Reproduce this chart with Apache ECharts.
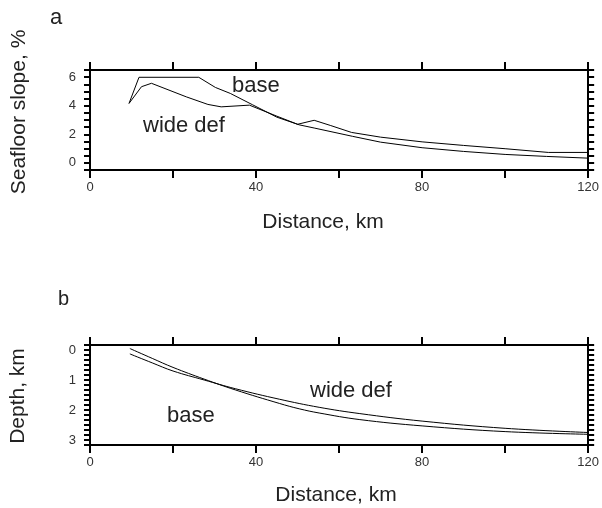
<!DOCTYPE html>
<html>
<head>
<meta charset="utf-8">
<script src="https://cdn.jsdelivr.net/npm/echarts@6/dist/echarts.min.js"></script>
<style>
  html, body { margin: 0; padding: 0; background: #fff; }
  #chart { width: 602px; height: 508px; }
</style>
</head>
<body>
<div id="chart"></div>
<script>
// Panel a: seafloor slope (%) against distance (km)
const slopeBaseKm = [9.4, 11.8, 26.2, 30.2, 33.8, 39.2, 45, 50.4, 54, 63.2, 70, 80, 90, 100, 110, 120];
const slopeBase   = [4.16, 5.99, 5.99, 5.28, 4.86, 4.06, 3.2, 2.66, 2.44, 1.86, 1.45, 1.06, 0.8, 0.59, 0.45, 0.33];
const slopeWideKm = [9.4, 12.4, 14.8, 23.2, 28.4, 31.6, 38.4, 45, 50, 54, 58, 63, 70, 80, 90, 100, 110.4, 120];
const slopeWide   = [4.16, 5.33, 5.57, 4.62, 4.09, 3.92, 4.04, 3.27, 2.7, 2.98, 2.61, 2.13, 1.8, 1.47, 1.22, 0.99, 0.73, 0.73];

// Panel b: depth (km) against distance (km)
const depthBaseKm = [9.6, 15, 20, 27.5, 35, 45.6, 50.4, 55.2, 65, 80, 100, 120];
const depthBase   = [-0.05, 0.28, 0.58, 0.97, 1.33, 1.78, 1.96, 2.1, 2.32, 2.53, 2.72, 2.81];
const depthWideKm = [9.6, 15, 20, 27.5, 35, 45.6, 55.2, 65, 80, 100, 120];
const depthWide   = [0.13, 0.43, 0.7, 1.0, 1.29, 1.64, 1.91, 2.12, 2.37, 2.61, 2.75];

// Tick labels
const distanceLabels = [0, 40, 80, 120];
const slopeLabels = [0, 2, 4, 6];
const depthLabels = [0, 1, 2, 3];

const FONT = "'Liberation Sans', Arial, Helvetica, sans-serif";

function pairs(xs, ys) { return xs.map((x, i) => [x, ys[i]]); }

const frame = { show: true, onZero: false, lineStyle: { color: '#000', width: 2 } };

function xAxisFor(gridIndex, position, withLabels) {
  return {
    type: 'value', gridIndex, position, min: 0, max: 120, interval: 20,
    axisLine: frame,
    axisTick: { show: true, inside: false, length: 8, lineStyle: { color: '#000', width: 2 } },
    axisLabel: {
      show: withLabels, margin: 11, color: '#333', fontFamily: FONT, fontSize: 13,
      formatter: v => distanceLabels.includes(Math.round(v)) ? String(Math.round(v)) : ''
    },
    splitLine: { show: false }
  };
}

function yAxisFor(gridIndex, position, withLabels, range, labelFn, inverse) {
  return {
    type: 'value', gridIndex, position, min: range[0], max: range[1], interval: range[2],
    inverse: !!inverse,
    axisLine: frame,
    axisTick: { show: true, inside: false, length: 6, lineStyle: { color: '#000', width: 2 } },
    axisLabel: { show: withLabels, margin: 14, color: '#333', fontFamily: FONT, fontSize: 13, formatter: labelFn },
    splitLine: { show: false }
  };
}

const slopeLabelFn = v => {
  const r = Math.round(v * 2);
  return (r % 2 === 0 && slopeLabels.includes(r / 2)) ? String(r / 2) : '';
};
const depthLabelFn = v => {
  const r = Math.round(v * 6);
  return (r % 6 === 0 && depthLabels.includes(r / 6)) ? String(r / 6) : '';
};

const slopeRange = [-0.5, 6.5, 0.5];
const depthRange = [-1 / 6, 19 / 6, 1 / 6];

const lineStyle = { color: '#000', width: 1 };

function text(str, x, y, size, align) {
  return {
    type: 'text', x, y, silent: true,
    style: { text: str, fontFamily: FONT, fontSize: size, fill: '#222', align: align || 'left', verticalAlign: 'middle' }
  };
}

function vtext(str, x, y, size) {
  return {
    type: 'text', x, y, rotation: Math.PI / 2, silent: true,
    style: { text: str, fontFamily: FONT, fontSize: size, fill: '#222', align: 'center', verticalAlign: 'middle' }
  };
}

const chart = echarts.init(document.getElementById('chart'), null, { renderer: 'canvas' });
chart.setOption({
  animation: false,
  backgroundColor: '#fff',
  grid: [
    { left: 90, top: 70, width: 500, height: 100, containLabel: false },
    { left: 90, top: 345, width: 500, height: 100, containLabel: false }
  ],
  xAxis: [
    xAxisFor(0, 'bottom', true),
    xAxisFor(0, 'top', false),
    xAxisFor(1, 'bottom', true),
    xAxisFor(1, 'top', false)
  ],
  yAxis: [
    yAxisFor(0, 'left', true, slopeRange, slopeLabelFn, false),
    yAxisFor(0, 'right', false, slopeRange, slopeLabelFn, false),
    yAxisFor(1, 'left', true, depthRange, depthLabelFn, true),
    yAxisFor(1, 'right', false, depthRange, depthLabelFn, true)
  ],
  series: [
    { name: 'base', type: 'line', xAxisIndex: 0, yAxisIndex: 0, data: pairs(slopeBaseKm, slopeBase),
      showSymbol: false, symbol: 'none', lineStyle },
    { name: 'wide def', type: 'line', xAxisIndex: 0, yAxisIndex: 0, data: pairs(slopeWideKm, slopeWide),
      showSymbol: false, symbol: 'none', lineStyle },
    { name: 'base', type: 'line', xAxisIndex: 2, yAxisIndex: 2, data: pairs(depthBaseKm, depthBase),
      showSymbol: false, symbol: 'none', smooth: 0.4, lineStyle },
    { name: 'wide def', type: 'line', xAxisIndex: 2, yAxisIndex: 2, data: pairs(depthWideKm, depthWide),
      showSymbol: false, symbol: 'none', smooth: 0.4, lineStyle }
  ],
  graphic: [
    text('a', 50, 18, 22),
    text('b', 58, 299, 20),
    text('base', 232, 86, 22),
    text('wide def', 143, 126, 22),
    text('base', 167, 416, 22),
    text('wide def', 310, 391, 22),
    vtext('Seafloor slope, %', 19, 112, 21),
    vtext('Depth, km', 18, 396, 21),
    text('Distance, km', 323, 222, 21, 'center'),
    text('Distance, km', 336, 495, 21, 'center')
  ]
});
</script>
</body>
</html>
